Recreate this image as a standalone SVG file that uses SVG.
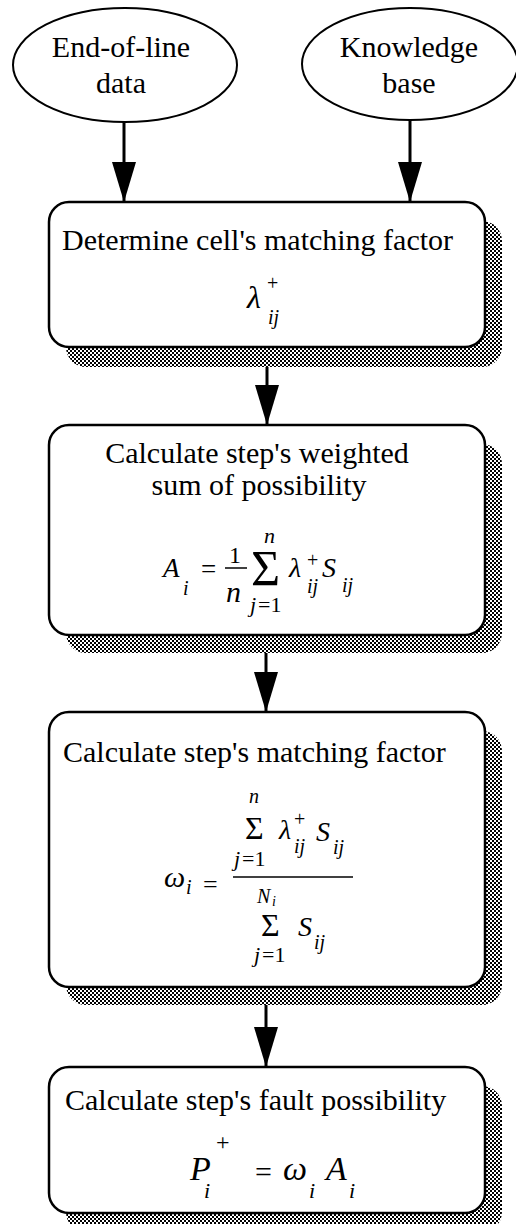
<svg xmlns="http://www.w3.org/2000/svg" width="516" height="1224" viewBox="0 0 516 1224">
<defs>
<pattern id="dither" width="4" height="4" patternUnits="userSpaceOnUse">
<rect width="4" height="4" fill="#fff"/>
<rect x="0" y="0" width="2" height="2" fill="#000"/>
<rect x="2" y="2" width="2" height="2" fill="#000"/>
</pattern>
<marker id="arr" viewBox="0 0 40 24" markerWidth="40" markerHeight="24" refX="40" refY="12" orient="auto" markerUnits="userSpaceOnUse">
<path d="M0,0 L40,12 L0,24 z" fill="#000"/>
</marker>
</defs>
<style>
.t{font-family:"Liberation Serif","Times New Roman",serif;font-size:30px;fill:#000}
.m{font-family:"Liberation Serif","Times New Roman",serif;fill:#000;font-style:italic}
.n{font-style:normal}
.box{fill:#fff;stroke:#000;stroke-width:2.5}
.sh{fill:url(#dither)}
.ell{fill:#fff;stroke:#000;stroke-width:2}
.c{stroke:#000;stroke-width:3;fill:none;marker-end:url(#arr)}
.bar{stroke:#000;stroke-width:1.5}
</style>
<rect width="516" height="1224" fill="#fff"/>

<g id="connectors">
<line class="c" x1="124" y1="122" x2="124" y2="202"/>
<line class="c" x1="410" y1="120" x2="410" y2="202"/>
<line class="c" x1="267" y1="347" x2="267" y2="425"/>
<line class="c" x1="266" y1="635" x2="266" y2="712"/>
<line class="c" x1="266" y1="987" x2="266" y2="1067"/>
</g>

<g id="eol">
<ellipse class="ell" cx="125" cy="65" rx="112" ry="57"/>
<text class="t" x="121" y="57" text-anchor="middle">End-of-line</text>
<text class="t" x="121" y="93" text-anchor="middle">data</text>
</g>

<g id="kb">
<ellipse class="ell" cx="410" cy="64" rx="108" ry="56"/>
<text class="t" x="409" y="57" text-anchor="middle">Knowledge</text>
<text class="t" x="409" y="93" text-anchor="middle">base</text>
</g>

<g id="step1">
<rect class="sh" x="66" y="221" width="436" height="146" rx="20"/>
<rect class="box" x="49" y="202" width="436" height="145" rx="20"/>
<text class="t" x="62" y="250">Determine cell's matching factor</text>
<text class="m" font-size="32"><tspan x="247" y="308">λ</tspan><tspan class="n" x="267" y="290" font-size="20">+</tspan><tspan x="268" y="324" font-size="20">ij</tspan></text>
</g>

<g id="step2">
<rect class="sh" x="66" y="444" width="436" height="209" rx="20"/>
<rect class="box" x="49" y="425" width="436" height="210" rx="20"/>
<text class="t" x="257" y="463" text-anchor="middle">Calculate step's weighted</text>
<text class="t" x="259" y="495" text-anchor="middle">sum of possibility</text>
<text class="m" font-size="27"><tspan x="163" y="577">A</tspan><tspan x="183" y="595" font-size="20">i</tspan><tspan class="n" x="201" y="578">=</tspan><tspan class="n" x="229" y="563" font-size="24">1</tspan><tspan x="226" y="602" font-size="30">n</tspan><tspan class="n" x="251" y="585" font-size="50">Σ</tspan><tspan x="264" y="543" font-size="22">n</tspan><tspan x="250" y="612" font-size="22">j</tspan><tspan class="n" x="258" y="612" font-size="22">=1</tspan><tspan x="289" y="577" font-size="28">λ</tspan><tspan class="n" x="307" y="567" font-size="20">+</tspan><tspan x="307" y="593" font-size="20">ij</tspan><tspan x="322" y="577" font-size="28">S</tspan><tspan x="342" y="592" font-size="20">ij</tspan></text>
<line class="bar" x1="225" y1="568" x2="247" y2="568"/>
</g>

<g id="step3">
<rect class="sh" x="66" y="731" width="436" height="274" rx="20"/>
<rect class="box" x="49" y="712" width="436" height="275" rx="20"/>
<text class="t" x="63" y="762">Calculate step's matching factor</text>
<text class="m" font-size="28"><tspan x="249" y="803" font-size="20">n</tspan><tspan class="n" x="245" y="839" font-size="32">Σ</tspan><tspan x="279" y="839">λ</tspan><tspan class="n" x="294" y="826" font-size="20">+</tspan><tspan x="294" y="853" font-size="20">ij</tspan><tspan x="316" y="841">S</tspan><tspan x="333" y="854" font-size="20">ij</tspan><tspan x="234" y="866" font-size="22">j</tspan><tspan class="n" x="242" y="866" font-size="22">=1</tspan><tspan x="164" y="887" font-size="30">ω</tspan><tspan x="186" y="894" font-size="20">i</tspan><tspan class="n" x="203" y="893" font-size="26">=</tspan><tspan x="257" y="903" font-size="20">N</tspan><tspan x="272" y="906" font-size="14">i</tspan><tspan class="n" x="261" y="936" font-size="32">Σ</tspan><tspan x="298" y="936">S</tspan><tspan x="314" y="949" font-size="20">ij</tspan><tspan x="254" y="962" font-size="22">j</tspan><tspan class="n" x="262" y="962" font-size="22">=1</tspan></text>
<line class="bar" x1="233" y1="877" x2="353" y2="877"/>
</g>

<g id="step4">
<rect class="sh" x="66" y="1086" width="436" height="146" rx="20"/>
<rect class="box" x="49" y="1067" width="436" height="146" rx="20"/>
<text class="t" x="65" y="1110">Calculate step's fault possibility</text>
<text class="m" font-size="34"><tspan x="190" y="1180">P</tspan><tspan x="204" y="1198" font-size="22">i</tspan><tspan class="n" x="216" y="1150" font-size="24">+</tspan><tspan class="n" x="255" y="1182" font-size="30">=</tspan><tspan x="283" y="1180">ω</tspan><tspan x="309" y="1198" font-size="22">i</tspan><tspan x="326" y="1180">A</tspan><tspan x="349" y="1198" font-size="22">i</tspan></text>
</g>
</svg>
